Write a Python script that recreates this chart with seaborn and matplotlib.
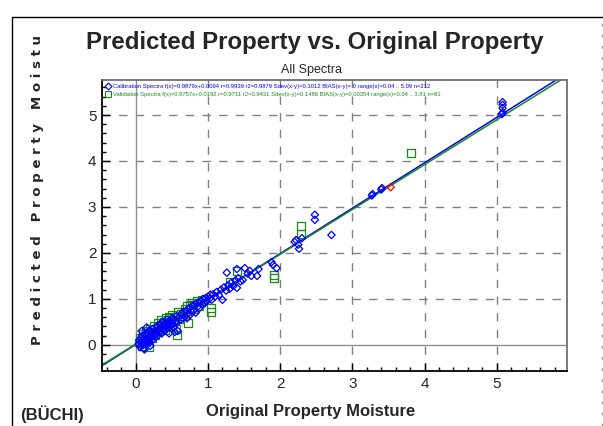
import numpy as np
import pandas as pd
import matplotlib
matplotlib.use('Agg')
from matplotlib import pyplot as plt
from matplotlib.lines import Line2D
from matplotlib.ticker import MultipleLocator
import seaborn as sns

# calibration spectra (blue diamonds)
cal_x = [0.04, 0.05, 0.06, 0.07, 0.08, 0.09, 0.10, 0.10, 0.11, 0.12, 0.13, 0.14, 0.15, 0.16,
         0.17, 0.18, 0.19, 0.20, 0.21, 0.22, 0.23, 0.24, 0.25, 0.26, 0.27, 0.28, 0.29, 0.30,
         0.31, 0.32, 0.33, 0.34, 0.35, 0.36, 0.37, 0.38, 0.39, 0.40, 0.41, 0.42, 0.43, 0.44,
         0.45, 0.46, 0.47, 0.48, 0.50, 0.51, 0.52, 0.53, 0.55, 0.56, 0.57, 0.58, 0.60, 0.62,
         0.63, 0.65, 0.66, 0.68, 0.70, 0.71, 0.72, 0.74, 0.75, 0.77, 0.78, 0.80, 0.82, 0.83,
         0.85, 0.86, 0.88, 0.90, 0.92, 0.93, 0.95, 0.97, 0.98, 1.00, 1.02, 1.03, 1.05, 1.07,
         1.10, 1.12, 1.15, 1.20, 1.18, 1.22, 1.25, 1.26, 1.28, 1.30, 1.32, 1.35, 1.38, 1.40,
         1.40, 1.42, 1.45, 1.48, 1.51, 1.55, 1.58, 1.60, 1.68, 1.70, 1.90, 1.95, 1.88, 2.20,
         2.22, 2.26, 2.25, 2.30, 2.48, 2.48, 2.71, 3.28, 3.27, 3.41, 3.40, 5.08, 5.08, 5.08,
         5.08, 5.07, 0.54, 0.12, 0.08, 0.15, 0.20]
cal_y = [0.02, 0.10, -0.05, 0.15, 0.05, 0.20, 0.00, 0.12, -0.08, 0.22, 0.08, 0.18, 0.03, 0.25,
         0.12, 0.30, 0.06, 0.20, 0.15, 0.28, 0.10, 0.35, 0.22, 0.18, 0.30, 0.25, 0.40, 0.20,
         0.33, 0.28, 0.45, 0.30, 0.38, 0.25, 0.50, 0.35, 0.42, 0.30, 0.48, 0.40, 0.55, 0.38,
         0.45, 0.25, 0.52, 0.42, 0.58, 0.45, 0.38, 0.55, 0.50, 0.62, 0.48, 0.30, 0.60, 0.55,
         0.68, 0.58, 0.72, 0.62, 0.75, 0.58, 0.68, 0.80, 0.65, 0.72, 0.85, 0.75, 0.88, 0.70,
         0.82, 0.92, 0.80, 0.95, 0.88, 1.00, 0.90, 1.02, 0.95, 1.05, 1.00, 1.09, 0.98, 1.10,
         1.05, 1.15, 1.08, 0.98, 1.20, 1.25, 1.18, 1.57, 1.30, 1.22, 1.35, 1.28, 1.40, 1.24,
         1.65, 1.45, 1.38, 1.41, 1.67, 1.55, 1.61, 1.50, 1.50, 1.65, 1.74, 1.67, 1.80, 2.24,
         2.28, 2.09, 2.18, 2.32, 2.83, 2.72, 2.39, 3.28, 3.25, 3.41, 3.38, 5.05, 5.15, 5.22,
         5.28, 5.02, 0.28, -0.10, 0.30, 0.38, -0.02]

# validation spectra (green squares)
val_x = [0.04, 0.06, 0.08, 0.10, 0.12, 0.14, 0.15, 0.17, 0.18, 0.20, 0.22, 0.24, 0.25, 0.27,
         0.29, 0.30, 0.32, 0.34, 0.35, 0.37, 0.39, 0.40, 0.42, 0.44, 0.46, 0.48, 0.50, 0.52,
         0.54, 0.57, 0.56, 0.58, 0.60, 0.62, 0.65, 0.68, 0.70, 0.72, 0.75, 0.78, 0.80, 0.85,
         0.88, 0.92, 1.04, 1.04, 1.30, 1.40, 1.91, 1.91, 2.29, 2.29, 3.81]
val_y = [0.05, 0.15, -0.02, 0.25, 0.10, 0.30, 0.05, 0.20, -0.06, 0.35, 0.15, 0.28, 0.42, 0.22,
         0.35, 0.48, 0.30, 0.42, 0.55, 0.38, 0.50, 0.32, 0.58, 0.45, 0.60, 0.40, 0.65, 0.50,
         0.62, 0.22, 0.35, 0.72, 0.55, 0.68, 0.62, 0.78, 0.85, 0.48, 0.88, 0.92, 0.78, 0.95,
         0.85, 0.98, 0.80, 0.72, 1.37, 1.61, 1.46, 1.52, 2.59, 2.41, 4.17]

# flagged sample (red diamond)
out_x = [3.53]
out_y = [3.43]

# regression coefficients (slope, intercept)
cal_fit = [0.9879, 0.0094]
val_fit = [0.9757, 0.0192]

cal_label = ('Calibration Spectra f(x)=0.9879x+0.0094 r=0.9939 r2=0.9879 Sdev(x-y)=0.1012 '
             'BIAS(x-y)= 0 range(x)=0.04 .. 5.09 n=212')
val_label = ('Validation Spectra f(x)=0.9757x+0.0192 r=0.9711 r2=0.9431 Sdev(x-y)=0.1486 '
             'BIAS(x-y)=0.00354 range(x)=0.04 .. 3.81 n=81')

BLUE = '#0000ff'
GREEN = '#1a8a1a'
NARROW = ['Liberation Sans', 'DejaVu Sans']

if __name__ == '__main__':
    sns.set_style('white')
    plt.rcParams['font.family'] = ['Liberation Sans', 'DejaVu Sans']

    f = plt.figure(figsize=(6.03, 4.26), dpi=100)
    ax = f.add_axes([0.169, 0.129, 0.771, 0.683])

    xlim = (-0.47, 5.97)
    ylim = (-0.57, 5.76)

    # grid
    for v in range(1, 6):
        ax.axvline(v, color='#808080', lw=1, ls=(0, (6, 6)), zorder=0)
        ax.axhline(v, color='#808080', lw=1, ls=(0, (6, 6)), zorder=0)
    ax.axvline(0, color='#909090', lw=1, zorder=0)
    ax.axhline(0, color='#909090', lw=1, zorder=0)

    # regression lines
    xs = np.array(xlim)
    lines = pd.DataFrame({'x': np.concatenate([xs, xs]),
                          'y': np.concatenate([cal_fit[0] * xs + cal_fit[1],
                                               val_fit[0] * xs + val_fit[1]]),
                          'set': ['cal', 'cal', 'val', 'val']})
    sns.lineplot(data=lines, x='x', y='y', hue='set', palette={'cal': BLUE, 'val': GREEN},
                 lw=1.1, ax=ax, legend=False, zorder=2)

    cal = pd.DataFrame({'x': cal_x, 'y': cal_y})
    val = pd.DataFrame({'x': val_x, 'y': val_y})
    red = pd.DataFrame({'x': out_x, 'y': out_y})
    sns.scatterplot(data=val, x='x', y='y', marker='s', s=30, facecolor='none',
                    edgecolor=GREEN, linewidth=0.9, ax=ax, zorder=3)
    sns.scatterplot(data=cal, x='x', y='y', marker='D', s=14, facecolor='none',
                    edgecolor=BLUE, linewidth=0.9, ax=ax, zorder=4)
    sns.scatterplot(data=red, x='x', y='y', marker='D', s=14, facecolor='none',
                    edgecolor='red', linewidth=0.9, ax=ax, zorder=5)

    ax.set(xlim=xlim, ylim=ylim, xlabel='', ylabel='')
    ax.xaxis.set_major_locator(MultipleLocator(1))
    ax.xaxis.set_minor_locator(MultipleLocator(0.2))
    ax.yaxis.set_major_locator(MultipleLocator(1))
    ax.yaxis.set_minor_locator(MultipleLocator(0.2))
    ax.tick_params(which='both', direction='in', color='black', labelsize=11,
                   bottom=True, left=True, top=False, right=False)
    ax.tick_params(which='major', length=6, width=1, pad=4)
    ax.tick_params(which='minor', length=3, width=1)
    for side in ['left', 'bottom']:
        ax.spines[side].set_color('black')
        ax.spines[side].set_linewidth(1.3)
    for side in ['top', 'right']:
        ax.spines[side].set_color('#707070')
        ax.spines[side].set_linewidth(1.3)

    handles = [Line2D([], [], marker='D', ls='none', mfc='none', mec=BLUE, ms=3.5, mew=0.8),
               Line2D([], [], marker='s', ls='none', mfc='none', mec=GREEN, ms=4.5, mew=0.8)]
    leg = ax.legend(handles, [cal_label, val_label], loc='upper left', frameon=False,
                    prop={'family': NARROW, 'size': 4.2}, handlelength=0.8,
                    handletextpad=0.4, borderpad=0.6, labelspacing=0.5,
                    borderaxespad=0.1)
    for t, c in zip(leg.get_texts(), [BLUE, GREEN]):
        t.set_color(c)

    # texts
    f.text(0.522, 0.90, 'Predicted Property vs. Original Property', ha='center',
           va='center', fontsize=17.3, fontweight='bold', family=NARROW)
    f.text(0.517, 0.835, 'All Spectra', ha='center', va='center', fontsize=9,
           family=NARROW)
    f.text(0.515, 0.035, 'Original Property Moisture', ha='center', va='center',
           fontsize=12, fontweight='bold', family=NARROW)
    f.text(0.063, 0.19, 'P r e d i c t e d   P r o p e r t y   M o i s t u', rotation=90,
           ha='center', va='bottom', fontsize=9.6, fontweight='bold', family='DejaVu Sans')
    f.text(0.086, 0.028, '(BÜCHI)', ha='center', va='center', fontsize=12,
           fontweight='bold', family=NARROW)

    # outer frame
    f.add_artist(Line2D([0.02, 0.02], [0.0, 0.96], color='black', lw=1,
                        transform=f.transFigure))
    f.add_artist(Line2D([0.02, 1.0], [0.96, 0.96], color='black', lw=1,
                        transform=f.transFigure))
    f.add_artist(Line2D([0.998, 0.998], [0.0, 0.96], color='#999999', lw=1,
                        ls=(0, (2, 6)), transform=f.transFigure))

    f.savefig('out.png', dpi=100)
